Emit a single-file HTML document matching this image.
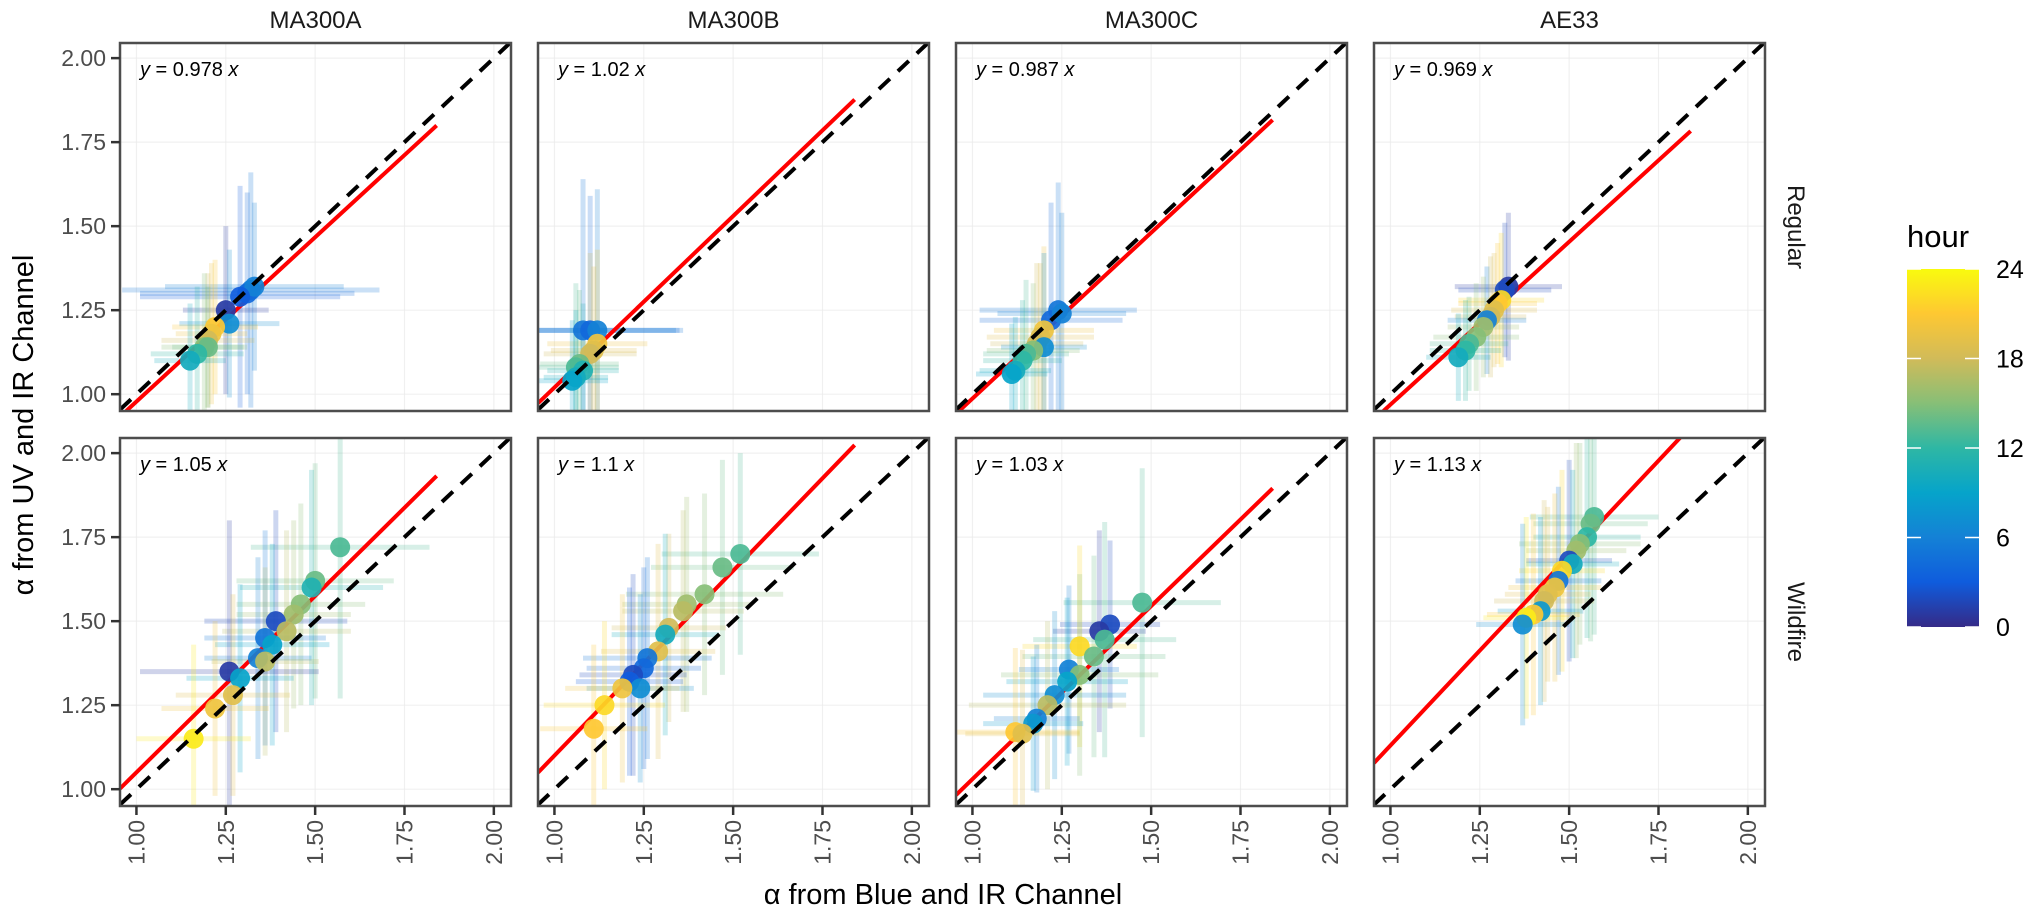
<!DOCTYPE html>
<html><head><meta charset="utf-8"><style>
html,body{margin:0;padding:0;background:#fff;width:2024px;height:919px;overflow:hidden;}
svg{display:block;font-family:"Liberation Sans",sans-serif;}
</style></head><body>
<svg id="chart" width="2024" height="919" viewBox="0 0 2024 919" xmlns="http://www.w3.org/2000/svg">
<defs>
<linearGradient id="parula" x1="0" y1="1" x2="0" y2="0">
<stop offset="0" stop-color="#352a87"/><stop offset="0.125" stop-color="#0f5cdd"/><stop offset="0.25" stop-color="#1481d6"/><stop offset="0.375" stop-color="#06a4ca"/><stop offset="0.5" stop-color="#2eb7a4"/><stop offset="0.625" stop-color="#87bf77"/><stop offset="0.75" stop-color="#d1bb59"/><stop offset="0.875" stop-color="#fec832"/><stop offset="1" stop-color="#f9fb0e"/>
</linearGradient>
</defs>
</svg>
<script>
// ---- data ----
const instruments = ["MA300A","MA300B","MA300C","AE33"];
const conditions = ["Regular","Wildfire"];
const slopes = [[0.978,1.02,0.987,0.969],[1.05,1.1,1.03,1.13]];
const slopeLabels = [["0.978","1.02","0.987","0.969"],["1.05","1.1","1.03","1.13"]];
const ticks = [1.00,1.25,1.50,1.75,2.00];
const tickLabels = ["1.00","1.25","1.50","1.75","2.00"];
const hourTicks = [0,6,12,18,24];
// Regular
const rA_x=[1.32,1.31,1.33,1.29,1.25,1.26,1.22,1.21,1.20,1.19,1.20,1.17,1.15];
const rA_y=[1.31,1.30,1.32,1.29,1.25,1.21,1.20,1.18,1.16,1.14,1.14,1.12,1.10];
const rA_h=[5,4,6,3,1,7,21,20,18,15,14,12,10];
const rA_xe=[0.36,0.30,0.25,0.28,0.12,0.14,0.12,0.10,0.13,0.12,0.10,0.13,0.10];
const rA_ye=[0.35,0.30,0.25,0.33,0.25,0.22,0.20,0.21,0.20,0.22,0.18,0.20,0.17];
const rB_x=[1.08,1.10,1.12,1.12,1.11,1.10,1.07,1.06,1.08,1.06,1.05];
const rB_y=[1.19,1.19,1.19,1.15,1.13,1.12,1.09,1.08,1.07,1.05,1.04];
const rB_h=[5,4,6,20,19,18,14,13,11,10,9];
const rB_xe=[0.28,0.25,0.22,0.14,0.12,0.13,0.11,0.12,0.10,0.09,0.10];
const rB_ye=[0.45,0.40,0.42,0.28,0.25,0.30,0.22,0.25,0.20,0.20,0.18];
const rC_x=[1.24,1.22,1.25,1.20,1.19,1.18,1.20,1.17,1.15,1.14,1.12,1.11];
const rC_y=[1.25,1.22,1.24,1.19,1.17,1.15,1.14,1.13,1.12,1.10,1.07,1.06];
const rC_h=[5,4,6,20,19,18,7,15,13,12,10,9];
const rC_xe=[0.22,0.20,0.18,0.14,0.15,0.13,0.12,0.13,0.12,0.11,0.10,0.10];
const rC_ye=[0.38,0.35,0.30,0.25,0.22,0.24,0.28,0.20,0.22,0.18,0.16,0.15];
const rD_x=[1.33,1.32,1.31,1.30,1.29,1.28,1.27,1.26,1.24,1.22,1.21,1.19];
const rD_y=[1.32,1.31,1.28,1.27,1.25,1.23,1.22,1.20,1.17,1.15,1.13,1.11];
const rD_h=[1,2,22,21,19,18,6,16,15,13,12,10];
const rD_xe=[0.15,0.13,0.12,0.11,0.12,0.10,0.11,0.10,0.12,0.11,0.10,0.09];
const rD_ye=[0.22,0.20,0.20,0.18,0.17,0.18,0.16,0.15,0.16,0.14,0.15,0.13];
// Wildfire
const wA_x=[1.57,1.50,1.49,1.46,1.44,1.39,1.42,1.36,1.38,1.34,1.36,1.26,1.29,1.27,1.22,1.16];
const wA_y=[1.72,1.62,1.60,1.55,1.52,1.50,1.47,1.45,1.43,1.39,1.38,1.35,1.33,1.28,1.24,1.15];
const wA_h=[13,14,11,15,16,2,17,5,9,6,17,1,9,19,20,23];
const wA_xe=[0.25,0.22,0.20,0.18,0.16,0.20,0.18,0.17,0.16,0.15,0.15,0.25,0.15,0.16,0.15,0.16];
const wA_ye=[0.45,0.35,0.35,0.30,0.28,0.33,0.30,0.32,0.30,0.30,0.28,0.45,0.28,0.30,0.26,0.28];
const wB_x=[1.52,1.47,1.42,1.37,1.36,1.32,1.31,1.29,1.26,1.25,1.22,1.21,1.24,1.19,1.14,1.11];
const wB_y=[1.70,1.66,1.58,1.55,1.53,1.48,1.46,1.41,1.39,1.36,1.34,1.32,1.30,1.30,1.25,1.18];
const wB_h=[13,14,15,16,17,18,10,19,5,4,2,3,7,20,22,21];
const wB_xe=[0.22,0.20,0.22,0.18,0.17,0.16,0.15,0.16,0.18,0.16,0.15,0.15,0.15,0.16,0.17,0.15];
const wB_ye=[0.30,0.32,0.30,0.32,0.30,0.28,0.30,0.32,0.30,0.30,0.30,0.28,0.28,0.28,0.25,0.25];
const wC_x=[1.475,1.385,1.355,1.37,1.30,1.34,1.27,1.30,1.265,1.23,1.21,1.18,1.17,1.12,1.14];
const wC_y=[1.555,1.49,1.47,1.445,1.425,1.395,1.356,1.34,1.32,1.28,1.25,1.21,1.195,1.17,1.165];
const wC_h=[13,2,1,13,22,14,6,15,9,7,17,6,8,21,19];
const wC_xe=[0.22,0.14,0.13,0.20,0.16,0.20,0.14,0.22,0.17,0.20,0.22,0.12,0.14,0.18,0.16];
const wC_ye=[0.40,0.25,0.30,0.35,0.30,0.30,0.25,0.30,0.25,0.25,0.25,0.22,0.20,0.25,0.25];
const wD_x=[1.57,1.56,1.55,1.53,1.52,1.50,1.51,1.48,1.47,1.46,1.44,1.43,1.42,1.40,1.38,1.37];
const wD_y=[1.81,1.79,1.75,1.73,1.71,1.68,1.67,1.65,1.62,1.60,1.58,1.56,1.53,1.52,1.51,1.49];
const wD_h=[13,14,12,15,16,2,10,22,5,20,19,18,8,21,23,7];
const wD_xe=[0.18,0.16,0.15,0.17,0.14,0.12,0.13,0.12,0.12,0.13,0.12,0.14,0.12,0.13,0.12,0.13];
const wD_ye=[0.35,0.35,0.30,0.30,0.32,0.30,0.28,0.30,0.28,0.28,0.26,0.30,0.28,0.30,0.30,0.30];

const series = [
 [[rA_x,rA_y,rA_h,rA_xe,rA_ye],[rB_x,rB_y,rB_h,rB_xe,rB_ye],[rC_x,rC_y,rC_h,rC_xe,rC_ye],[rD_x,rD_y,rD_h,rD_xe,rD_ye]],
 [[wA_x,wA_y,wA_h,wA_xe,wA_ye],[wB_x,wB_y,wB_h,wB_xe,wB_ye],[wC_x,wC_y,wC_h,wC_xe,wC_ye],[wD_x,wD_y,wD_h,wD_xe,wD_ye]]
];

// ---- layout ----
const NS="http://www.w3.org/2000/svg";
const svg=document.getElementById('chart');
const colLeft=[120,538,956,1374], panelW=391;
const rowTop=[43,438], panelH=368;
const X0=0.954, X1=2.048, Y0=0.95, Y1=2.045;
function sx(c,v){return colLeft[c]+(v-X0)/(X1-X0)*panelW;}
function sy(r,v){return rowTop[r]+panelH-(v-Y0)/(Y1-Y0)*panelH;}
const stops=[[53,42,135],[15,92,221],[20,129,214],[6,164,202],[46,183,164],[135,191,119],[209,187,89],[254,200,50],[249,251,14]];
function col(h){let t=Math.max(0,Math.min(1,h/24))*8;let i=Math.min(7,Math.floor(t));let f=t-i;let a=stops[i],b=stops[i+1];
 return `rgb(${Math.round(a[0]+(b[0]-a[0])*f)},${Math.round(a[1]+(b[1]-a[1])*f)},${Math.round(a[2]+(b[2]-a[2])*f)})`;}
function mk(tag,attrs,parent){const e=document.createElementNS(NS,tag);for(const k in attrs)e.setAttribute(k,attrs[k]);(parent||svg).appendChild(e);return e;}

for(let r=0;r<2;r++){
 for(let c=0;c<4;c++){
  const g=mk('g',{});
  
  
  const cid='clip'+r+c;
  const cp=mk('clipPath',{id:cid},g);
  mk('rect',{x:colLeft[c],y:rowTop[r],width:panelW,height:panelH},cp);
  for(let i=0;i<ticks.length;i++){
   const v=ticks[i];
   mk('line',{x1:sx(c,v),x2:sx(c,v),y1:rowTop[r],y2:rowTop[r]+panelH,stroke:'#ebebeb','stroke-width':1.2,opacity:0.7},g);
   mk('line',{x1:colLeft[c],x2:colLeft[c]+panelW,y1:sy(r,v),y2:sy(r,v),stroke:'#ebebeb','stroke-width':1.2,opacity:0.7},g);
  }
  const inner=mk('g',{'clip-path':`url(#${cid})`},g);
  const [xs,ys,hs,xe,ye]=series[r][c];
  for(let i=0;i<xs.length;i++){
   const eb=mk('line',{x1:sx(c,xs[i]-xe[i]),x2:sx(c,xs[i]+xe[i]),y1:sy(r,ys[i]),y2:sy(r,ys[i]),stroke:col(hs[i]),'stroke-width':5,opacity:0.22},inner);
   
   
   const ev=mk('line',{x1:sx(c,xs[i]),x2:sx(c,xs[i]),y1:sy(r,Math.max(Y0,ys[i]-ye[i])),y2:sy(r,Math.min(Y1,ys[i]+ye[i])),stroke:col(hs[i]),'stroke-width':5,opacity:0.22},inner);
   
   
  }
  const b=slopes[r][c];
  const fx0=Math.max(X0,Y0/b);
  const fl=mk('line',{x1:sx(c,fx0),y1:sy(r,fx0*b),x2:sx(c,1.84),y2:sy(r,1.84*b),stroke:'#ff0000','stroke-width':4},inner);
  
  
  for(let i=0;i<xs.length;i++){
   const p=mk('circle',{cx:sx(c,xs[i]),cy:sy(r,ys[i]),r:10,fill:col(hs[i]),opacity:0.92},inner);
   
   
  }
  const d0=Math.max(X0,Y0), d1=Math.min(X1,Y1);
  const ol=mk('line',{x1:sx(c,d0),y1:sy(r,d0),x2:sx(c,d1),y2:sy(r,d1),stroke:'#000','stroke-width':4,'stroke-dasharray':'15 11'},inner);
  
  
  const bd=mk('rect',{x:colLeft[c],y:rowTop[r],width:panelW,height:panelH,fill:'none',stroke:'#4d4d4d','stroke-width':2.5},g);
  
  
  const eq=mk('text',{x:colLeft[c]+20,y:rowTop[r]+33,'font-size':20,fill:'#000'},g);
  
  
  eq.innerHTML=`<tspan font-style="italic">y</tspan> = ${slopeLabels[r][c]} <tspan font-style="italic">x</tspan>`;
  if(c===0){
   for(let i=0;i<ticks.length;i++){
    mk('line',{x1:colLeft[0]-9,x2:colLeft[0],y1:sy(r,ticks[i]),y2:sy(r,ticks[i]),stroke:'#333','stroke-width':2.5},g);
    const t=mk('text',{x:colLeft[0]-14,y:sy(r,ticks[i])+8,'font-size':23,fill:'#4d4d4d','text-anchor':'end'},g);
    
    
    t.textContent=tickLabels[i];
   }
  }
  if(r===1){
   for(let i=0;i<ticks.length;i++){
    const x=sx(c,ticks[i]);
    mk('line',{x1:x,x2:x,y1:rowTop[1]+panelH,y2:rowTop[1]+panelH+9,stroke:'#333','stroke-width':2.5},g);
    const t=mk('text',{x:0,y:0,'font-size':23,fill:'#4d4d4d','text-anchor':'end',transform:`translate(${x+8},${rowTop[1]+panelH+14}) rotate(-90)`},g);
    
    
    t.textContent=tickLabels[i];
   }
  }
 }
}
for(let c=0;c<4;c++){
 const t=mk('text',{x:colLeft[c]+panelW/2,y:28,'font-size':24,fill:'#1a1a1a','text-anchor':'middle'});
 
 
 t.textContent=instruments[c];
}
for(let r=0;r<2;r++){
 const t=mk('text',{x:0,y:0,'font-size':24,fill:'#1a1a1a','text-anchor':'middle',transform:`translate(1788,${rowTop[r]+panelH/2}) rotate(90)`});
 
 
 t.textContent=conditions[r];
}
const xt=mk('text',{x:943,y:904,'font-size':29,fill:'#000','text-anchor':'middle'});


xt.textContent='α from Blue and IR Channel';
const yt=mk('text',{x:0,y:0,'font-size':29,fill:'#000','text-anchor':'middle',transform:'translate(33,425) rotate(-90)'});


yt.textContent='α from UV and IR Channel';
const lg=mk('g',{});


const lt=mk('text',{x:1907,y:247,'font-size':31,fill:'#000'},lg);


lt.textContent='hour';
const cbTop=269,cbBot=627;
const cb=mk('rect',{x:1907,y:cbTop,width:72,height:cbBot-cbTop,fill:'url(#parula)'},lg);


for(let i=0;i<hourTicks.length;i++){
 const y=cbBot-(cbBot-cbTop)*hourTicks[i]/24;
 mk('line',{x1:1907,x2:1921,y1:y,y2:y,stroke:'#fff','stroke-width':1.5},lg);
 mk('line',{x1:1965,x2:1979,y1:y,y2:y,stroke:'#fff','stroke-width':1.5},lg);
 const t=mk('text',{x:1996,y:y+9,'font-size':25,fill:'#000'},lg);
 
 
 t.textContent=String(hourTicks[i]);
}
</script>
</body></html>
